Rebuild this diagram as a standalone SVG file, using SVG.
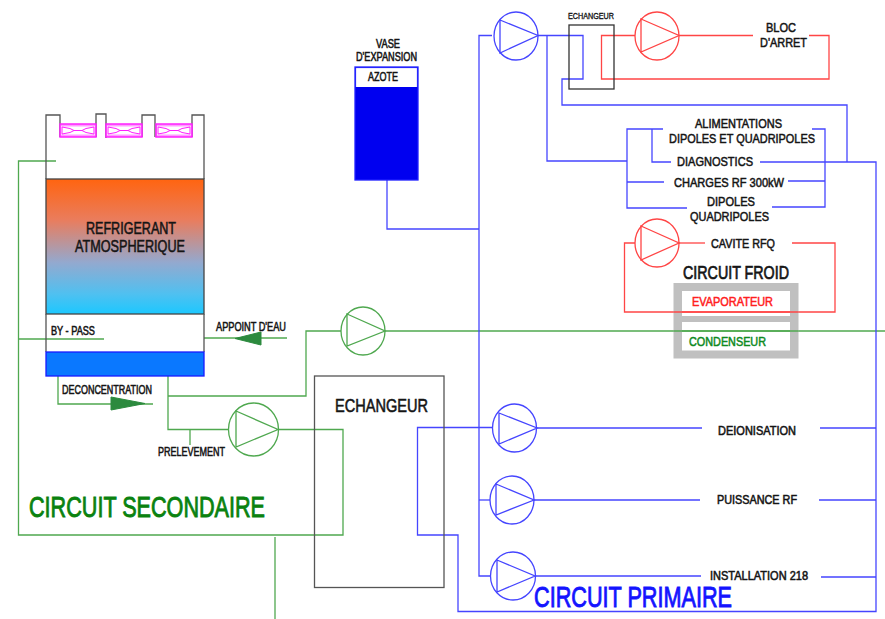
<svg xmlns="http://www.w3.org/2000/svg" xmlns:xlink="http://www.w3.org/1999/xlink" width="885" height="619" viewBox="0 0 885 619">
<style>
text{font-family:"Liberation Sans",Arial,sans-serif;fill:#151515;stroke:#151515;stroke-width:.55}
.bl,.gr,.rd,.bk{fill:none;stroke-width:1.3}
.bl{stroke:#4545ff}.gr{stroke:#4fa84f}.rd{stroke:#ff4545}.bk{stroke:#555}
.s10{font-size:12px}.s12{font-size:13.500px}.s15{font-size:16.500px}
.big{font-size:29px;stroke-width:.9}
.tri{fill:#2c8a3e;stroke:#2c8a3e}
.mg{fill:#ff9cff;stroke:#ff20ff;stroke-width:1.500}
</style>
<defs>
<linearGradient id="ref" x1="0" y1="0" x2="0" y2="1">
<stop offset="0" stop-color="#ff6410"/><stop offset=".3" stop-color="#ea7c5c"/><stop offset=".62" stop-color="#93a9cf"/><stop offset=".85" stop-color="#50c0f0"/><stop offset="1" stop-color="#1cc8ff"/>
</linearGradient>
<g id="fan">
<rect class="mg" x="0" y="0" width="36" height="13"/>
<rect x="1" y="2.500" width="34" height="8" fill="#fff"/>
<path d="M2 3L10 4.500L14 6.500L22 6.500L26 4.500L34 3L34 10L26 8.500L22 6.500L14 6.500L10 8.500L2 10Z" fill="#fff" stroke="#ff20ff"/>
</g>
</defs>

<g id="connectors">
<path class="gr" d="M56 161H18.500V535H343V429.500H278"/>
<path class="gr" d="M18.500 339H104"/>
<path class="gr" d="M204 338H287"/>
<path class="gr" d="M58 376V404H153"/>
<path class="gr" d="M168 376V429.500H229"/>
<path class="gr" d="M168 396H306V331H341"/>
<path class="gr" d="M190 429.500V445"/>
<path class="gr" d="M275 537V619"/>
<path class="gr" d="M385 331H885"/>
<path class="bl" d="M387 180V229H479"/>
<path class="bl" d="M492 35.500H479V576H491"/>
<path class="bl" d="M479 500H490"/>
<path class="bl" d="M538 35.500H583V79H562V105H847V162"/>
<path class="bl" d="M547 35.500V161H627"/>
<path class="bl" d="M663 129H627V208H687"/>
<path class="bl" d="M652 129V162H671"/>
<path class="bl" d="M627 182H664"/>
<path class="bl" d="M812 129H825V207H772"/>
<path class="bl" d="M788 181H825"/>
<path class="bl" d="M760 162H876V611.500H458V535H417.500V427.500H492"/>
<path class="bl" d="M537 428H702"/>
<path class="bl" d="M820 428H876"/>
<path class="bl" d="M534 500H700"/>
<path class="bl" d="M819 500H876"/>
<path class="bl" d="M535 576H701"/>
<path class="bl" d="M821 577H876"/>
<path class="rd" d="M679 35.500H753"/>
<path class="rd" d="M809 35.500H829V79H601.500V35.500H635"/>
<path class="rd" d="M679 243H705"/>
<path class="rd" d="M792 243H835V312H624.500V243H635"/>
</g>

<g id="refrigerant">
<path class="bk" d="M60 137V115H46V179M96 137V114H106V138M142 137V115H155V137M192 137V115H204V179"/>
<use xlink:href="#fan" href="#fan" x="60" y="124"/>
<use xlink:href="#fan" href="#fan" x="106" y="124"/>
<use xlink:href="#fan" href="#fan" x="156" y="124"/>
<rect x="46" y="179" width="158" height="135" fill="url(#ref)" stroke="#444" stroke-width="1.300"/>
<path d="M46 314V352M204 314V352" class="bk"/>
<rect x="46" y="352" width="158" height="24" fill="#0a78ff" stroke="#1a1aff" stroke-width="1.300"/>
<text class="s15" x="86" y="234" textLength="90" lengthAdjust="spacingAndGlyphs">REFRIGERANT</text>
<text class="s15" x="75" y="252" textLength="110" lengthAdjust="spacingAndGlyphs">ATMOSPHERIQUE</text>
<text class="s10" x="51" y="335" textLength="44" lengthAdjust="spacingAndGlyphs">BY - PASS</text>
</g>

<g id="appoint">
<polygon class="tri" points="235,338.500 261,332 261,345"/>
<text class="s10" x="216" y="331" textLength="70" lengthAdjust="spacingAndGlyphs">APPOINT D'EAU</text>
</g>
<g id="deconcentration">
<polygon class="tri" points="111,397 145,403.500 111,410"/>
<text class="s10" x="62" y="394" textLength="90" lengthAdjust="spacingAndGlyphs">DECONCENTRATION</text>
</g>
<g id="prelevement">
<text class="s10" x="158" y="456" textLength="67" lengthAdjust="spacingAndGlyphs">PRELEVEMENT</text>
</g>

<g id="pump-green-1" class="gr">
<ellipse cx="363" cy="331" rx="22" ry="24"/>
<path d="M347 314L385 331L347 346Z"/>
</g>
<g id="pump-green-2" class="gr">
<ellipse cx="253.500" cy="429.500" rx="25" ry="26.500" fill="#fff"/>
<path d="M236 411L278 429.500L236 447Z"/>
</g>

<g id="echangeur-principal">
<rect class="bk" x="314.500" y="376" width="129.500" height="211.500"/>
<text x="335" y="412" font-size="17.500" textLength="93" lengthAdjust="spacingAndGlyphs">ECHANGEUR</text>
</g>

<g id="vase">
<rect x="355" y="67" width="63" height="113" fill="#0000f0" stroke="#2020ff" stroke-width="1.300"/>
<rect x="355.700" y="67.700" width="61.600" height="19.300" fill="#fff"/>
<path d="M355.600 67V87M417.400 67V87M355 67.600H418" stroke="#2020ff" fill="none"/>
<text class="s10" x="376" y="48" textLength="24" lengthAdjust="spacingAndGlyphs">VASE</text>
<text class="s10" x="356" y="61" textLength="61" lengthAdjust="spacingAndGlyphs">D'EXPANSION</text>
<text class="s10" x="368" y="81" textLength="30" lengthAdjust="spacingAndGlyphs">AZOTE</text>
</g>

<g id="pump-top" class="bl">
<ellipse cx="516" cy="36" rx="22" ry="24" fill="#fff"/>
<path d="M500 20L538 35.500L500 53Z"/>
</g>

<g id="echangeur-haut">
<rect x="569" y="25" width="45" height="64" fill="none" stroke="#333" stroke-width="1.300"/>
<text x="568" y="19" font-size="9.500" style="stroke-width:.4" textLength="46" lengthAdjust="spacingAndGlyphs">ECHANGEUR</text>
</g>

<g id="pump-red-1" class="rd">
<ellipse cx="657" cy="36" rx="22" ry="24" fill="#fff"/>
<path d="M641 19L679 35.500L641 52Z"/>
</g>
<g id="bloc">
<text class="s12" x="766" y="32" textLength="30" lengthAdjust="spacingAndGlyphs">BLOC</text>
<text class="s12" x="760" y="47" textLength="47" lengthAdjust="spacingAndGlyphs">D'ARRET</text>
</g>

<g id="alimentations">
<text class="s12" x="695" y="128" textLength="87" lengthAdjust="spacingAndGlyphs">ALIMENTATIONS</text>
<text class="s12" x="669" y="143" textLength="146" lengthAdjust="spacingAndGlyphs">DIPOLES ET QUADRIPOLES</text>
</g>
<g id="diagnostics"><text class="s12" x="677" y="166" textLength="76" lengthAdjust="spacingAndGlyphs">DIAGNOSTICS</text></g>
<g id="charges"><text class="s12" x="674" y="187" textLength="110" lengthAdjust="spacingAndGlyphs">CHARGES RF 300kW</text></g>
<g id="dipoles">
<text class="s12" x="707" y="206" textLength="48" lengthAdjust="spacingAndGlyphs">DIPOLES</text>
<text class="s12" x="690" y="221" textLength="79" lengthAdjust="spacingAndGlyphs">QUADRIPOLES</text>
</g>

<g id="pump-red-2" class="rd">
<ellipse cx="657" cy="243" rx="22" ry="24" fill="#fff"/>
<path d="M641 226L679 243L641 260Z"/>
</g>
<g id="cavite"><text class="s12" x="711" y="248" textLength="64" lengthAdjust="spacingAndGlyphs">CAVITE RFQ</text></g>

<g id="circuit-froid">
<path d="M673.500 283H798.500V358.500H673.500Z M682 291V316H790V291Z M682 322V350.500H790V322Z" fill="#c0c0c0" fill-rule="evenodd"/>
<path class="rd" d="M673.500 312H798.500"/>
<path class="gr" d="M673.500 331H798.500"/>
<text x="683" y="279" font-size="18" textLength="106" lengthAdjust="spacingAndGlyphs" style="stroke-width:.7">CIRCUIT FROID</text>
<text class="s12" x="692" y="306" textLength="81" lengthAdjust="spacingAndGlyphs" style="fill:#ff2020;stroke:#ff2020">EVAPORATEUR</text>
<text class="s12" x="689" y="346" textLength="77" lengthAdjust="spacingAndGlyphs" style="fill:#0f8a1f;stroke:#0f8a1f">CONDENSEUR</text>
</g>

<g id="pump-deionisation" class="bl">
<ellipse cx="514.500" cy="428" rx="22" ry="24" fill="#fff"/>
<path d="M499 413L537 428L499 444Z"/>
</g>
<g id="pump-puissance" class="bl">
<ellipse cx="512" cy="500" rx="22" ry="24" fill="#fff"/>
<path d="M496 484L534 500L496 515Z"/>
</g>
<g id="pump-installation" class="bl">
<ellipse cx="513" cy="576" rx="22.500" ry="24" fill="#fff"/>
<path d="M497 560L535 576L497 592Z"/>
</g>
<g id="deionisation"><text class="s10" x="718" y="435" textLength="78" lengthAdjust="spacingAndGlyphs">DEIONISATION</text></g>
<g id="puissance"><text class="s10" x="717" y="504" textLength="80" lengthAdjust="spacingAndGlyphs">PUISSANCE RF</text></g>
<g id="installation"><text class="s10" x="710" y="580" textLength="98" lengthAdjust="spacingAndGlyphs">INSTALLATION 218</text></g>

<g id="labels">
<text class="big" x="29" y="517" textLength="236" lengthAdjust="spacingAndGlyphs" style="fill:#0a820f;stroke:#0a820f">CIRCUIT SECONDAIRE</text>
<text class="big" x="534" y="607" textLength="198" lengthAdjust="spacingAndGlyphs" style="fill:#1414ff;stroke:#1414ff">CIRCUIT PRIMAIRE</text>
</g>
</svg>
